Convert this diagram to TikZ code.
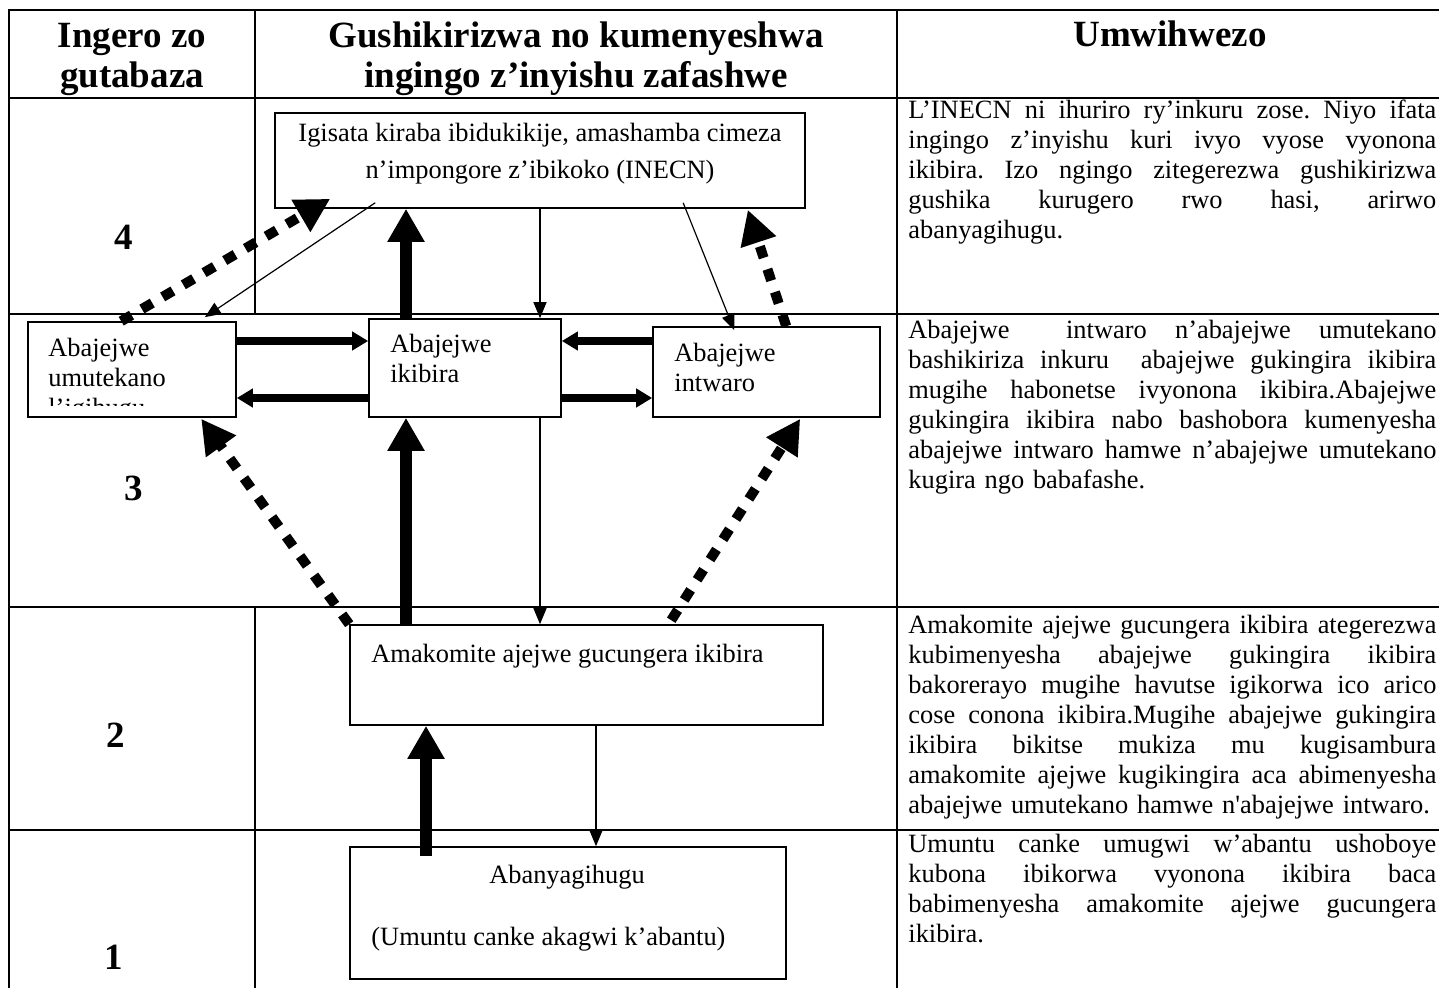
\documentclass[tikz,border=0pt]{standalone}
\usepackage{fontspec}
\setmainfont{Liberation Serif}
\usetikzlibrary{positioning, calc, fit, arrows.meta}

\newlength\notew
\setlength\notew{264pt}
\newcommand{\justline}[1]{\hbox to\notew{\frenchspacing
  \spaceskip=0.25em plus 1em minus 0.05em\relax\strut #1}}

\begin{document}
\begin{tikzpicture}[x=0.5pt, y=-0.5pt,
  tableline/.style={line width=1.1pt},
  box/.style={draw, line width=0.8pt, inner sep=0pt},
  boxtext/.style={anchor=base west, inner sep=0pt, font=\fontsize{13.2pt}{15pt}\selectfont},
  headtext/.style={anchor=base, inner sep=0pt, font=\fontsize{18.5pt}{20pt}\selectfont\bfseries},
  num/.style={inner sep=0pt, font=\fontsize{18.5pt}{20pt}\selectfont\bfseries},
  note/.style={anchor=north west, inner sep=0pt, text width=\notew,
    font=\fontsize{13.2pt}{15pt}\selectfont\frenchspacing},
  bigarrow/.style={line width=6pt, -{Triangle[length=16.5pt, width=17.5pt]}},
  midarrow/.style={line width=4pt, -{Triangle[length=8pt, width=9pt]}},
  thinarrow/.style={line width=0.6pt, -{Triangle[length=8pt, width=6.5pt]}},
  dotarrow/.style={line width=5pt, dash pattern=on 6pt off 6pt,
    -{Triangle[length=17pt, width=17.5pt]}},
]

\useasboundingbox (0,0) rectangle (1439,988);

% table
\draw[tableline] (9,988) -- (9,10) -- (1439,10);
\foreach \y in {98,314,607,830}
  \draw[tableline] (9,\y) -- (1439,\y);
\draw[tableline] (255,10) -- (255,314);
\draw[tableline] (255,607) -- (255,988);
\draw[tableline] (897,10) -- (897,988);

% header
\node[headtext] (head1a) at (132,48) {Ingero zo};
\node[headtext] (head1b) at (132,88) {gutabaza};
\node[headtext] (head2a) at (576,48) {Gushikirizwa no kumenyeshwa};
\node[headtext] (head2b) at (576,88) {ingingo z’inyishu zafashwe};
\node[headtext] (head3) at (1170,47) {Umwihwezo};

% levels
\node[num] (lvl4) at (124,237) {4};
\node[num] (lvl3) at (134,488) {3};
\node[num] (lvl2) at (116,735) {2};
\node[num] (lvl1) at (114,957) {1};

% boxes
\node[box, fit={(275,113) (805,208)}] (inecn) {};
\node[box, fit={(28,322) (236,417)}] (umutekano) {};
\node[box, fit={(369,319) (561,417)}] (ikibira) {};
\node[box, fit={(653,327) (880,417)}] (intwaro) {};
\node[box, fit={(350,625) (823,725)}] (amakomite) {};
\node[box, fit={(350,847) (786,979)}] (abanyagihugu) {};

% box texts
\node[boxtext, anchor=base] (inecn1) at (540,142) {Igisata kiraba ibidukikije, amashamba cimeza};
\node[boxtext, anchor=base] (inecn2) at (540,179) {n’impongore z’ibikoko (INECN)};
\node[boxtext] (umutekano1) at (48,357) {Abajejwe};
\node[boxtext] (umutekano2) at (48,387) {umutekano};
\begin{scope}
  \clip (28,322) rectangle (236,406);
  \node[boxtext] (umutekano3) at (48,417) {l’igihugu};
\end{scope}
\node[boxtext] (ikibira1) at (390,353) {Abajejwe};
\node[boxtext] (ikibira2) at (390,383) {ikibira};
\node[boxtext] (intwaro1) at (674,362) {Abajejwe};
\node[boxtext] (intwaro2) at (674,392) {intwaro};
\node[boxtext] (amakomite1) at (371,662) {Amakomite ajejwe gucungera ikibira};
\node[boxtext, anchor=base] (abanyagihugu1) at (567,883) {Abanyagihugu};
\node[boxtext] (abanyagihugu2) at (371,945) {(Umuntu canke akagwi k’abantu)};

% columns and rows of the arrows
\coordinate (xa) at (406,0);
\coordinate (xb) at (540,0);
\coordinate (xc) at (426,0);
\coordinate (xd) at (596,0);
\coordinate (ya) at (0,341);
\coordinate (yb) at (0,398);

% vertical arrows
\draw[bigarrow] (xa |- ikibira.north) -- (xa |- inecn.south);
\draw[thinarrow] (xb |- inecn.south) -- (xb |- ikibira.north);
\draw[bigarrow] (xa |- amakomite.north) -- (xa |- ikibira.south);
\draw[thinarrow] (xb |- ikibira.south) -- (xb |- amakomite.north);
\draw[bigarrow] ($(xc |- abanyagihugu.north)+(0,10)$) -- (xc |- amakomite.south);
\draw[thinarrow] (xd |- amakomite.south) -- (xd |- abanyagihugu.north);

% horizontal arrows
\draw[midarrow] (umutekano.east |- ya) -- (ikibira.west |- ya);
\draw[midarrow] (ikibira.west |- yb) -- (umutekano.east |- yb);
\draw[midarrow] (intwaro.west |- ya) -- (ikibira.east |- ya);
\draw[midarrow] (ikibira.east |- yb) -- (intwaro.west |- yb);

% diagonal arrows
\draw[dotarrow] ($(umutekano.north west)+(94,0)$) -- ($(inecn.south west)+(56,-10)$);
\draw[thinarrow] ($(inecn.south west)+(101,-6)$) -- ($(umutekano.north east)+(-32,-4)$);
\draw[thinarrow] ($(inecn.south west)+(409,-6)$) -- ($(intwaro.north west)+(82,4)$);
\draw[dotarrow] ($(intwaro.north west)+(134,0)$) -- ($(inecn.south east)+(-58,1)$);
\draw[dotarrow] (amakomite.north west) -- ($(umutekano.south west)+(174,1)$);
\draw[dotarrow] ($(amakomite.north west)+(322,-4)$) -- ($(intwaro.south west)+(148,1)$);

% right column
\node[note] (note4) at (908,97) {%
  \justline{L’INECN ni ihuriro ry’inkuru zose. Niyo ifata}
  \justline{ingingo z’inyishu kuri ivyo vyose vyonona}
  \justline{ikibira. Izo ngingo zitegerezwa gushikirizwa}
  \justline{gushika kurugero rwo hasi, arirwo}
  \strut abanyagihugu.};
\node[note] (note3) at (908,317) {%
  \justline{Abajejwe\ \ intwaro n’abajejwe umutekano}
  \justline{bashikiriza inkuru\ \ abajejwe gukingira ikibira}
  \justline{mugihe habonetse ivyonona ikibira.Abajejwe}
  \justline{gukingira ikibira nabo bashobora kumenyesha}
  \justline{abajejwe intwaro hamwe n’abajejwe umutekano}
  \strut kugira ngo babafashe.};
\node[note] (note2) at (908,612) {%
  \justline{Amakomite ajejwe gucungera ikibira ategerezwa}
  \justline{kubimenyesha abajejwe gukingira ikibira}
  \justline{bakorerayo mugihe havutse igikorwa ico arico}
  \justline{cose conona ikibira.Mugihe abajejwe gukingira}
  \justline{ikibira bikitse mukiza mu kugisambura}
  \justline{amakomite ajejwe kugikingira aca abimenyesha}
  \strut abajejwe umutekano hamwe n\textquotesingle abajejwe intwaro.};
\node[note] (note1) at (908,831) {%
  \justline{Umuntu canke umugwi w’abantu ushoboye}
  \justline{kubona ibikorwa vyonona ikibira baca}
  \justline{babimenyesha amakomite ajejwe gucungera}
  \strut ikibira.};

\end{tikzpicture}
\end{document}
